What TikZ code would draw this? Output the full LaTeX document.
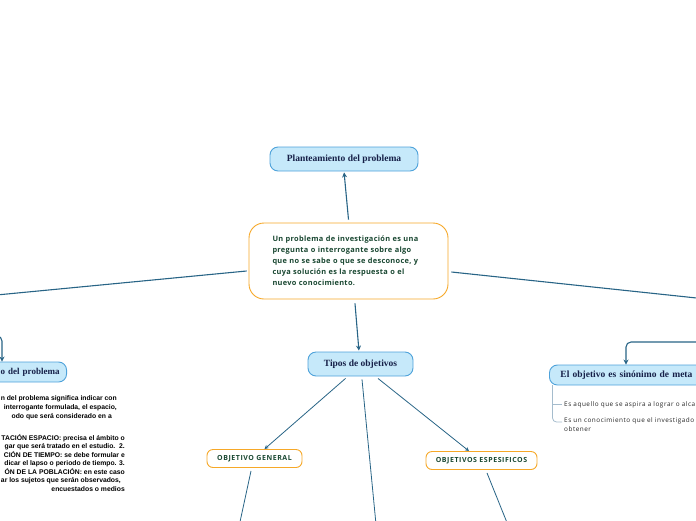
\documentclass[tikz,border=0pt]{standalone}
\usepackage{fontspec}
\setmainfont{Open Sans}
\newfontfamily\spaced[LetterSpace=8]{Open Sans}
\newfontfamily\cspaced[LetterSpace=4]{Open Sans}
\newfontfamily\titlef{Liberation Serif}
\newfontfamily\smallf{Liberation Sans}
\usetikzlibrary{arrows.meta,calc}
\definecolor{conn}{RGB}{40,100,134}
\definecolor{bfill}{RGB}{198,233,250}
\definecolor{bline}{RGB}{78,162,218}
\definecolor{orng}{RGB}{246,168,40}
\definecolor{grn}{RGB}{26,72,50}
\definecolor{navy}{RGB}{22,32,72}
\definecolor{brk}{RGB}{165,188,205}
\tikzset{
  tbox/.style={draw=bline, fill=bfill, line width=0.9pt, rounded corners=8pt,
    font=\titlef\bfseries\fontsize{9.5}{11}\selectfont, text=navy, inner xsep=12pt, inner ysep=0pt},
  obox/.style={draw=orng, fill=white, line width=0.9pt, rounded corners=6pt,
    font=\spaced\bfseries\fontsize{7}{8}\selectfont, text=grn, inner sep=0pt},
  conn/.style={draw=conn, line width=1.1pt},
  thin/.style={draw=conn, line width=0.8pt},
  arr/.style={-{Stealth[length=5pt,width=5pt]}},
  sarr/.style={-{Stealth[length=4pt,width=4pt]}},
  ltxt/.style={font=\smallf\bfseries\fontsize{6.8}{7}\selectfont, inner sep=0pt, anchor=east},
  rtxt/.style={font=\spaced\fontsize{6.4}{9}\selectfont, text=black!85, inner sep=0pt, anchor=west},
}
\begin{document}
\begin{tikzpicture}[x=1pt,y=-1pt]
\useasboundingbox (0,0) rectangle (696,520);
\clip (0,0) rectangle (696,520);

% central node
\node[draw=orng, line width=0.9pt, rounded corners=15pt, fill=white,
  minimum width=199pt, minimum height=76pt, text width=152pt, align=left,
  font=\cspaced\bfseries\fontsize{7.4}{10.9}\selectfont, text=grn, inner sep=0pt]
  (c) at (348.5,261) {Un problema de investigación es una\\pregunta o interrogante sobre algo\\que no se sabe o que se desconoce, y\\cuya solución es la respuesta o el\\nuevo conocimiento.};

% top node
\node[tbox, minimum width=148pt, minimum height=24pt] (p) at (344,159) {Planteamiento del problema};

% tipos
\node[tbox, minimum width=105pt, minimum height=24pt] (t) at (360.5,364) {Tipos de objetivos};

% orange child nodes
\node[obox, minimum width=95pt, minimum height=18pt] (g) at (254.5,458.5) {OBJETIVO GENERAL};
\node[obox, minimum width=111pt, minimum height=18pt] (e) at (481.5,460.5) {OBJETIVOS ESPESIFICOS};

% left node (clipped)
\node[tbox, anchor=east, minimum height=20pt, text width=100pt, align=right, inner xsep=7pt,
  font=\titlef\bfseries\fontsize{9}{11}\selectfont] (l) at (67,372) {o del problema};

% right node (clipped)
\node[tbox, anchor=west, minimum height=20pt, text width=140pt, align=left, inner xsep=11pt] (m) at (549,375) {El objetivo es sinónimo de meta};

% free-end coordinates
\coordinate (cl) at (-40,298.5);
\coordinate (cr) at (740,302.6);
\coordinate (ld) at (378,545);
\coordinate (gd) at (235,545);
\coordinate (ed) at (516,545);
\coordinate (la) at (-30,336);
\coordinate (lc) at (2,336);
\coordinate (ra) at (740,342);
\coordinate (rc) at (626,342);

% connectors
\draw[conn,arr,shorten >=1pt] ($(c.north)+(0,-3)$) -- (p.south);
\draw[conn] ($(c.west)+(-2,10)$) -- (cl);
\draw[conn] ($(c.east)+(3,11)$) -- (cr);
\draw[conn,arr,shorten >=1pt] ($(c.south)+(6.5,4)$) -- (t.north -| 359,0);
\draw[thin,sarr] ($(t.south)+(-15,2)$) -- ($(g.north)+(10,0)$);
\draw[thin] ($(t.south)+(1.5,3)$) -- (ld);
\draw[thin,sarr] ($(t.south)+(17.5,2)$) -- ($(e.north)+(-12.5,0)$);
\draw[thin] ($(g.south)+(-3.5,3)$) -- (gd);
\draw[thin] ($(e.south)+(5.5,3)$) -- (ed);
\draw[conn,arr,rounded corners=5pt] (la) -- (lc) -- (l.north -| lc);
\draw[conn,arr,rounded corners=5pt] (ra) -- (rc) -- (m.north -| rc);

% bracket under right node
\coordinate (b0) at (552.5,385);
\coordinate (b1) at (552.5,404);
\coordinate (b2) at (552.5,422);
\draw[brk, line width=0.8pt, rounded corners=4pt] (b0) -- (b2) -- (562,422);
\draw[brk, line width=0.8pt] (b1) -- (562,404);
\node[rtxt] (r1) at (564,404.5) {Es aquello que se aspira a lograr o alca};
\node[rtxt, align=left, anchor=north west] (r2) at (564,417) {Es un conocimiento que el investigado\\obtener};

% left text block (clipped)
\node[ltxt] (t1) at (117,399) {n del problema significa indicar con};
\node[ltxt] (t2) at (117,408) {interrogante formulada, el espacio,};
\node[ltxt] (t3) at (112,416.5) {odo que será considerado en a};
\node[ltxt] (t4) at (125,438) {TACIÓN ESPACIO: precisa el ámbito o};
\node[ltxt] (t5) at (125,446.5) {gar que será tratado en el estudio.\ \ 2.};
\node[ltxt] (t6) at (125,455) {CIÓN DE TIEMPO: se debe formular e};
\node[ltxt] (t7) at (125,463.5) {dicar el lapso o periodo de tiempo. 3.};
\node[ltxt] (t8) at (125,472) {ÓN DE LA POBLACIÓN: en este caso};
\node[ltxt] (t9) at (121,480.5) {ar los sujetos que serán observados,};
\node[ltxt] (t10) at (125,489) {encuestados o medios};
\end{tikzpicture}
\end{document}
